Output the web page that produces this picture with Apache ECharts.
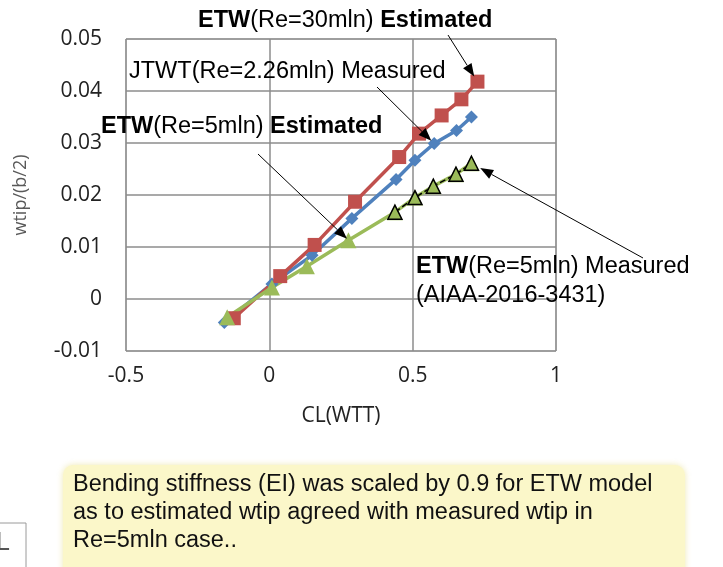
<!DOCTYPE html>
<html>
<head>
<meta charset="utf-8">
<script src="https://cdn.jsdelivr.net/npm/echarts@6/dist/echarts.min.js"></script>
<style>
  html, body { margin: 0; padding: 0; background: #fff; }
  #wtipChart { width: 723px; height: 567px; }
</style>
</head>
<body>
<div id="wtipChart"></div>
<script>
  // JTWT(Re=2.26mln) Measured
  var jtwtCL = [-0.157, 0.009, 0.149, 0.288, 0.442, 0.508, 0.575, 0.653, 0.705]
  var jtwtW = [-0.0045, 0.0029, 0.0084, 0.0155, 0.0230, 0.0267, 0.0299, 0.0324, 0.0350]
  // ETW(Re=30mln) Estimated
  var etw30CL = [-0.124, 0.038, 0.158, 0.299, 0.453, 0.522, 0.601, 0.670, 0.726]
  var etw30W = [-0.0037, 0.0044, 0.0104, 0.0187, 0.0273, 0.0318, 0.0353, 0.0384, 0.0418]
  // ETW(Re=5mln) Estimated
  var etw5CL = [-0.147, 0.009, 0.131, 0.276, 0.438, 0.508, 0.572, 0.651, 0.705]
  var etw5W = [-0.0035, 0.0022, 0.0063, 0.0113, 0.0167, 0.0195, 0.0217, 0.0240, 0.0261]
  // ETW(Re=5mln) Measured (AIAA-2016-3431)
  var etw5mCL = [0.438, 0.508, 0.572, 0.651, 0.705]
  var etw5mW = [0.0167, 0.0195, 0.0217, 0.0240, 0.0261]

  var noteLines = [
    'Bending stiffness (EI) was scaled by 0.9 for ETW model',
    'as to estimated wtip agreed with measured wtip in',
    'Re=5mln case..'
  ]

  function pairs(xs, ys) {
    var out = []
    for (var i = 0; i < xs.length; i++) out.push([xs[i], ys[i]])
    return out
  }

  var tickFont = '"Open Sans", sans-serif'
  var noteFont = '"Liberation Sans", Arial, sans-serif'

  var chart = echarts.init(document.getElementById('wtipChart'))
  var option = {
    animation: false,
    grid: {
      left: 126,
      right: 167,
      top: 39,
      bottom: 216,
      show: true,
      borderColor: '#a6a6a6',
      borderWidth: 1
    },
    xAxis: {
      type: 'value',
      min: -0.5,
      max: 1,
      interval: 0.5,
      name: 'CL(WTT)',
      nameLocation: 'middle',
      nameGap: 55,
      nameTextStyle: { fontFamily: tickFont, fontSize: 21, color: '#222' },
      axisLine: { show: false, onZero: false },
      axisTick: { show: false },
      axisLabel: { fontFamily: tickFont, fontSize: 21, color: '#222', margin: 15 },
      splitLine: { lineStyle: { color: '#8c8c8c', width: 1.5 } }
    },
    yAxis: {
      type: 'value',
      min: -0.01,
      max: 0.05,
      interval: 0.01,
      name: 'wtip/(b/2)',
      nameLocation: 'middle',
      nameGap: 96,
      nameTextStyle: { fontFamily: tickFont, fontSize: 18, color: '#595959' },
      axisLine: { show: false, onZero: false },
      axisTick: { show: false },
      axisLabel: {
        fontFamily: tickFont, fontSize: 21, color: '#222', margin: 24,
        formatter: function (v) { return String(+v.toFixed(2)) }
      },
      splitLine: { lineStyle: { color: '#8c8c8c', width: 1.5 } }
    },
    series: [{
      name: 'JTWT(Re=2.26mln) Measured',
      type: 'line',
      data: pairs(jtwtCL, jtwtW),
      symbol: 'diamond',
      symbolSize: 13,
      itemStyle: { color: '#4F81BD' },
      lineStyle: { color: '#4F81BD', width: 3.5 }
    }, {
      name: 'ETW(Re=30mln) Estimated',
      type: 'line',
      data: pairs(etw30CL, etw30W),
      symbol: 'rect',
      symbolSize: 14,
      itemStyle: { color: '#C0504D' },
      lineStyle: { color: '#C0504D', width: 3.5 }
    }, {
      name: 'ETW(Re=5mln) Estimated',
      type: 'line',
      data: pairs(etw5CL, etw5W),
      symbol: 'triangle',
      symbolSize: 16,
      itemStyle: { color: '#9BBB59' },
      lineStyle: { color: '#9BBB59', width: 3.5 }
    }, {
      name: 'ETW(Re=5mln) Measured',
      type: 'line',
      data: pairs(etw5mCL, etw5mW),
      symbol: 'triangle',
      symbolSize: 14,
      itemStyle: { color: '#9BBB59', borderColor: '#000', borderWidth: 1.5 },
      lineStyle: { color: '#000', width: 1.5, type: 'dashed' }
    }]
  }
  chart.setOption(option)

  // annotations: arrow tips come from the data points
  function px(x, y) {
    return chart.convertToPixel({ gridIndex: 0 }, [x, y])
  }
  function arrow(tail, pt, gap) {
    var dx = pt[0] - tail[0], dy = pt[1] - tail[1]
    var len = Math.sqrt(dx * dx + dy * dy)
    var ux = dx / len, uy = dy / len
    var tip = [pt[0] - ux * gap, pt[1] - uy * gap]
    var hl = 13, hw = 5
    var base = [tip[0] - ux * hl, tip[1] - uy * hl]
    return [{
      type: 'line',
      z: 100,
      shape: { x1: tail[0], y1: tail[1], x2: base[0], y2: base[1] },
      style: { stroke: '#000', lineWidth: 1 }
    }, {
      type: 'polygon',
      z: 100,
      shape: { points: [tip, [base[0] - uy * hw, base[1] + ux * hw], [base[0] + uy * hw, base[1] - ux * hw]] },
      style: { fill: '#000' }
    }]
  }
  function label(x, y, text) {
    return {
      type: 'text',
      z: 100,
      x: x,
      y: y,
      style: {
        text: text,
        fontFamily: noteFont,
        fontSize: 23.5,
        fill: '#000',
        verticalAlign: 'middle',
        rich: {
          b: { fontFamily: noteFont, fontSize: 23.5, fontWeight: 'bold', fill: '#000' },
          n: { fontFamily: noteFont, fontSize: 23.5, fill: '#000' }
        }
      }
    }
  }

  var last = function (a) { return a[a.length - 1] }
  var graphics = []
  graphics = graphics.concat(arrow([448, 35], px(last(etw30CL), last(etw30W)), 6))
  graphics = graphics.concat(arrow([377, 87], px(jtwtCL[6], jtwtW[6]), 4))
  graphics = graphics.concat(arrow([258, 154], px(etw5CL[3], etw5W[3]), 2))
  graphics = graphics.concat(arrow([643, 258], px(last(etw5mCL), last(etw5mW)), 10))
  graphics.push(label(198, 21, '{b|ETW}{n|(Re=30mln) }{b|Estimated}'))
  graphics.push(label(129, 72, '{n|JTWT(Re=2.26mln) Measured}'))
  graphics.push(label(101, 127, '{b|ETW}{n|(Re=5mln) }{b|Estimated}'))
  graphics.push(label(416, 267, '{b|ETW}{n|(Re=5mln) Measured}'))
  graphics.push(label(416, 296, '{n|(AIAA-2016-3431)}'))

  // note box
  graphics.push({
    type: 'rect',
    z: 90,
    shape: { x: 63, y: 465, width: 622, height: 130, r: 10 },
    style: { fill: '#fbf7c9', shadowBlur: 6, shadowColor: 'rgba(235,228,160,0.8)' }
  })
  graphics.push({
    type: 'text',
    z: 100,
    x: 73,
    y: 471,
    style: {
      text: noteLines.join('\n'),
      fontFamily: noteFont,
      fontSize: 23.5,
      lineHeight: 27.8,
      fill: '#111'
    }
  })
  // cut-off frame at lower left
  graphics.push({
    type: 'rect',
    z: 90,
    shape: { x: -20, y: 523, width: 46, height: 80 },
    style: { fill: 'none', stroke: '#9a9a9a', lineWidth: 1 }
  })
  graphics.push({
    type: 'text',
    z: 90,
    x: -4,
    y: 531,
    style: { text: 'L', fontFamily: noteFont, fontSize: 25, fill: '#555' }
  })

  chart.setOption({ graphic: graphics })
</script>
</body>
</html>
